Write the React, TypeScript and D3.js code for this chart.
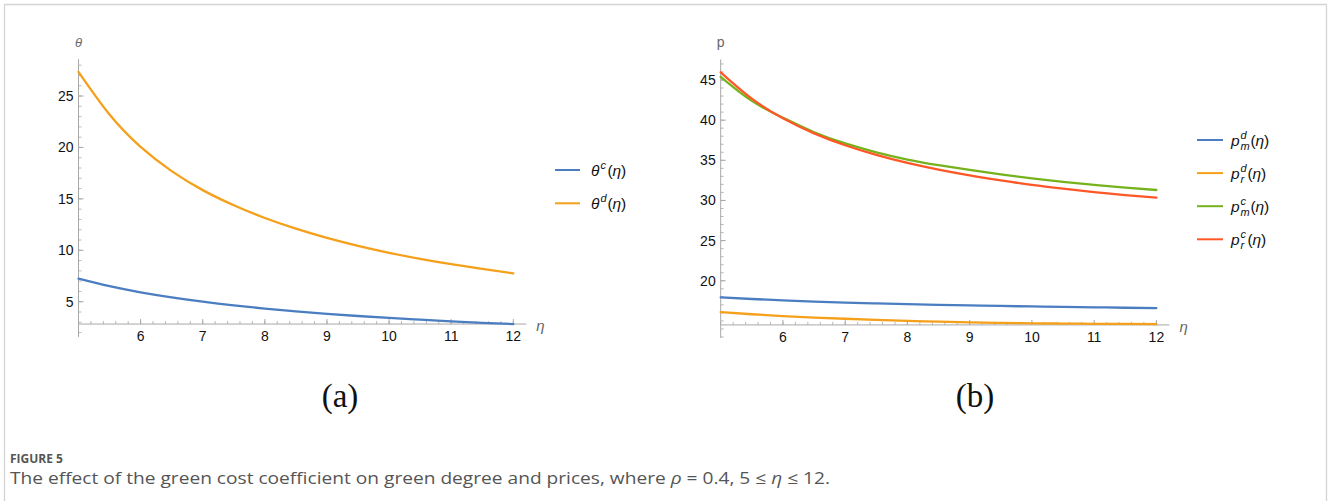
import React from "react";
import * as d3 from "d3";

// ---------- data ----------
const eta = [5, 5.5, 6, 6.5, 7, 7.5, 8, 8.5, 9, 9.5, 10, 10.5, 11, 11.5, 12];

// panel (a): green degree
const thetaC = [7.24, 6.51, 5.91, 5.42, 5.0, 4.64, 4.33, 4.06, 3.82, 3.61, 3.42, 3.25, 3.09, 2.95, 2.83];
const thetaD = [27.35, 23.2, 20.05, 17.7, 15.85, 14.38, 13.14, 12.1, 11.2, 10.43, 9.76, 9.17, 8.65, 8.19, 7.76];

// panel (b): prices
const pmD = [17.93, 17.73, 17.56, 17.41, 17.28, 17.17, 17.08, 17.0, 16.93, 16.86, 16.8, 16.74, 16.69, 16.64, 16.6];
const prD = [16.1, 15.83, 15.6, 15.42, 15.27, 15.13, 15.01, 14.9, 14.81, 14.75, 14.7, 14.67, 14.64, 14.62, 14.6];
const pmC = [45.4, 42.4, 40.3, 38.5, 37.1, 36.0, 35.1, 34.4, 33.8, 33.25, 32.75, 32.32, 31.95, 31.6, 31.3];
const prC = [45.96, 42.68, 40.24, 38.36, 36.88, 35.67, 34.67, 33.83, 33.11, 32.49, 31.94, 31.47, 31.04, 30.67, 30.35];

const xTicks = [6, 7, 8, 9, 10, 11, 12];
const yTicksA = [5, 10, 15, 20, 25];
const yTicksB = [20, 25, 30, 35, 40, 45];

const BLUE = "#4a7ec0";
const ORANGE = "#f5a01a";
const GREEN = "#76b21c";
const RED = "#ff5726";

const AXIS = "#a8a8a8";
const TXT = "#111";
const FONT = "'Liberation Sans', Arial, sans-serif";

type Series = { values: number[]; color: string };

function Panel(props: {
  x0: number;
  x1: number;
  yTop: number;
  yBot: number;
  yDomain: [number, number];
  originY: number;
  yTicks: number[];
  yLabel: string;
  yLabelItalic: boolean;
  series: Series[];
}) {
  const { x0, x1, yTop, yBot, yDomain, originY, yTicks, series } = props;
  const x = d3.scaleLinear().domain([5, 12]).range([x0, x1]);
  const y = d3.scaleLinear().domain(yDomain).range([yBot, yTop]);
  const axY = y(originY);
  const line = (vals: number[]) =>
    d3
      .line<number>()
      .x((_, i) => x(eta[i]))
      .y((d) => y(d))
      .curve(d3.curveNatural)(vals) || "";

  const minorX = d3.range(5, 12.0001, 0.2).map((v) => +v.toFixed(2));
  const minorY = d3.range(Math.ceil(yDomain[0]), Math.floor(yDomain[1]) + 1);

  return (
    <g>
      <line x1={x(5)} x2={x(5)} y1={yTop} y2={yBot} stroke={AXIS} strokeWidth={1} />
      <line x1={x(5)} x2={x(12) + 13} y1={axY} y2={axY} stroke={AXIS} strokeWidth={1} />
      {minorY.map((v) => (
        <line key={"my" + v} x1={x(5)} x2={x(5) + 3} y1={y(v)} y2={y(v)} stroke={AXIS} strokeWidth={0.8} />
      ))}
      {yTicks.map((v) => (
        <g key={"y" + v}>
          <line x1={x(5)} x2={x(5) + 5} y1={y(v)} y2={y(v)} stroke={AXIS} strokeWidth={1} />
          <text x={x(5) - 5} y={y(v) + 5} textAnchor="end" fontSize={14} fill={TXT} fontFamily={FONT}>
            {v}
          </text>
        </g>
      ))}
      {minorX.map((v) => (
        <line key={"mx" + v} x1={x(v)} x2={x(v)} y1={axY} y2={axY - 3} stroke={AXIS} strokeWidth={0.8} />
      ))}
      {xTicks.map((v) => (
        <g key={"x" + v}>
          <line x1={x(v)} x2={x(v)} y1={axY} y2={axY - 5} stroke={AXIS} strokeWidth={1} />
          <text x={x(v)} y={axY + 17} textAnchor="middle" fontSize={14} fill={TXT} fontFamily={FONT}>
            {v}
          </text>
        </g>
      ))}
      <text x={x(12) + 23} y={axY + 7} fontSize={15} fill="#666" fontStyle="italic" fontFamily={FONT}>
        η
      </text>
      <text
        x={x(5)}
        y={yTop - 12}
        textAnchor="middle"
        fontSize={props.yLabelItalic ? 13 : 14}
        fill="#666"
        fontStyle={props.yLabelItalic ? "italic" : "normal"}
        fontFamily={FONT}
      >
        {props.yLabel}
      </text>
      {series.map((s, i) => (
        <path key={i} d={line(s.values)} fill="none" stroke={s.color} strokeWidth={2.3} strokeLinecap="round" />
      ))}
    </g>
  );
}

function ThetaLabel(props: { x: number; y: number; sup: string }) {
  const { x, y, sup } = props;
  return (
    <g fontFamily={FONT} fill={TXT}>
      <text x={x} y={y} fontSize={15.5} fontStyle="italic">θ</text>
      <text x={x + 9.5} y={y - 7} fontSize={11} fontStyle="italic">{sup}</text>
      <text x={x + 16.5} y={y} fontSize={15.5}>(</text>
      <text x={x + 21.5} y={y} fontSize={15.5} fontStyle="italic">η</text>
      <text x={x + 30} y={y} fontSize={15.5}>)</text>
    </g>
  );
}

function PLabel(props: { x: number; y: number; sup: string; sub: string }) {
  const { x, y, sup, sub } = props;
  const off = sub === "m" ? 19.5 : 16.5;
  return (
    <g fontFamily={FONT} fill={TXT}>
      <text x={x} y={y} fontSize={15.5} fontStyle="italic">p</text>
      <text x={x + 9.5} y={y - 7} fontSize={11} fontStyle="italic">{sup}</text>
      <text x={x + 9.5} y={y + 4} fontSize={11} fontStyle="italic">{sub}</text>
      <text x={x + off} y={y} fontSize={15.5}>(</text>
      <text x={x + off + 5} y={y} fontSize={15.5} fontStyle="italic">η</text>
      <text x={x + off + 13.5} y={y} fontSize={15.5}>)</text>
    </g>
  );
}

const legendA = [
  { sup: "c", color: BLUE },
  { sup: "d", color: ORANGE },
];
const legendB = [
  { sup: "d", sub: "m", color: BLUE },
  { sup: "d", sub: "r", color: ORANGE },
  { sup: "c", sub: "m", color: GREEN },
  { sup: "c", sub: "r", color: RED },
];

export default function App() {
  return (
    <svg
      width={1328}
      height={501}
      style={{ position: "absolute", left: 0, top: 0, display: "block", background: "#fff" }}
    >
      <rect x={0} y={0} width={1328} height={501} fill="#fff" />
      <path d="M4.5,510 V4.5 H1326.5 V510" fill="none" stroke="#d4d4d4" strokeWidth={1.3} />

      <Panel
        x0={78.5}
        x1={513.3}
        yTop={59}
        yBot={337}
        yDomain={[1.57, 28.6]}
        originY={2.83}
        yTicks={yTicksA}
        yLabel="θ"
        yLabelItalic={true}
        series={[
          { values: thetaC, color: BLUE },
          { values: thetaD, color: ORANGE },
        ]}
      />
      <Panel
        x0={720.7}
        x1={1156.4}
        yTop={59.3}
        yBot={338}
        yDomain={[12.87, 47.58]}
        originY={14.5}
        yTicks={yTicksB}
        yLabel="p"
        yLabelItalic={false}
        series={[
          { values: pmD, color: BLUE },
          { values: prD, color: ORANGE },
          { values: pmC, color: GREEN },
          { values: prC, color: RED },
        ]}
      />

      {legendA.map((l, i) => (
        <g key={"la" + i}>
          <line x1={555} x2={580} y1={170 + i * 33.3} y2={170 + i * 33.3} stroke={l.color} strokeWidth={2} />
          <ThetaLabel x={591} y={175.5 + i * 33.3} sup={l.sup} />
        </g>
      ))}
      {legendB.map((l, i) => (
        <g key={"lb" + i}>
          <line x1={1197} x2={1223} y1={140 + i * 33.1} y2={140 + i * 33.1} stroke={l.color} strokeWidth={2} />
          <PLabel x={1231} y={145.5 + i * 33.1} sup={l.sup} sub={l.sub} />
        </g>
      ))}

      <text x={340} y={407} textAnchor="middle" fontSize={33} fill="#111" fontFamily="'Liberation Serif', 'Times New Roman', serif">
        (a)
      </text>
      <text x={975} y={407} textAnchor="middle" fontSize={33} fill="#111" fontFamily="'Liberation Serif', 'Times New Roman', serif">
        (b)
      </text>

      <text x={10} y={463} fontSize={12} fontWeight="bold" fill="#555" fontFamily="'Open Sans', 'Noto Sans', sans-serif">
        FIGURE 5
      </text>
      <text
        x={10}
        y={484}
        fontSize={16.5}
        fill="#555"
        fontFamily="'Open Sans', 'Noto Sans', sans-serif"
        textLength={820}
        lengthAdjust="spacingAndGlyphs"
      >
        The effect of the green cost coefficient on green degree and prices, where <tspan fontStyle="italic">ρ</tspan> = 0.4, 5 ≤ <tspan fontStyle="italic">η</tspan> ≤ 12.
      </text>
    </svg>
  );
}
